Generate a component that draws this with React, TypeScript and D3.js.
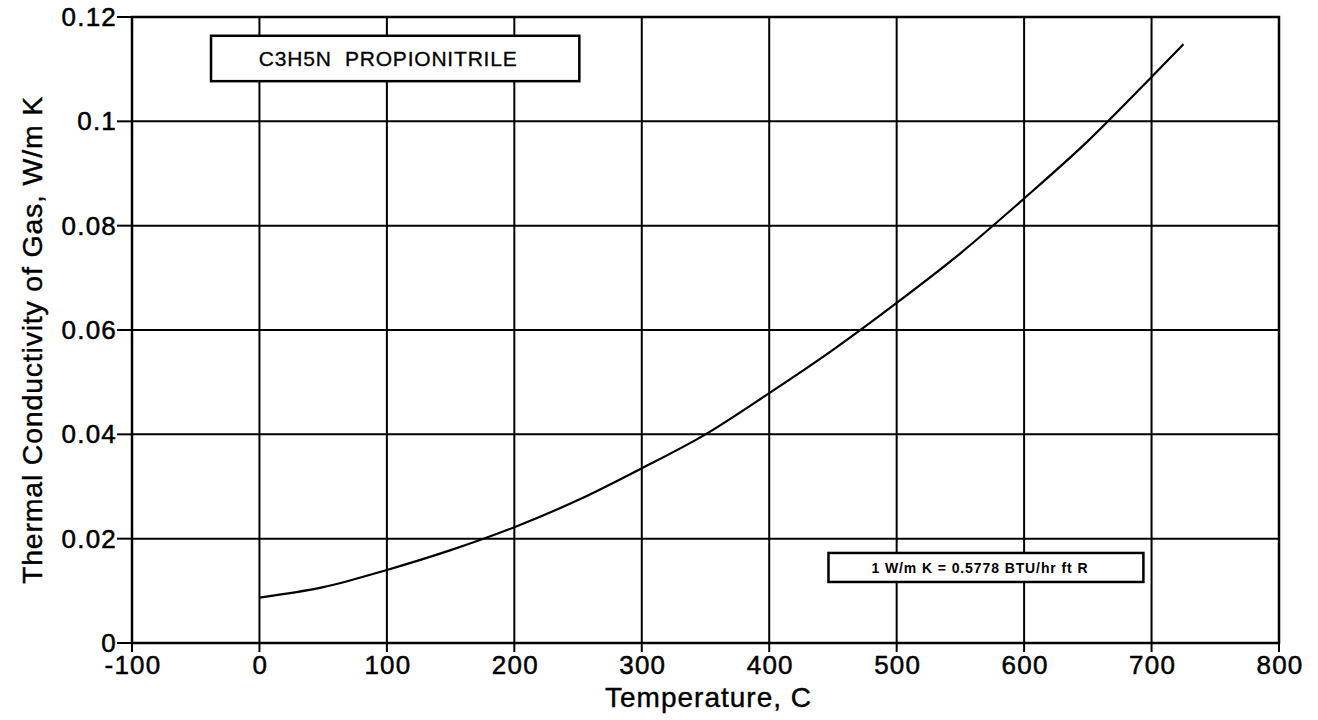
import * as d3 from "d3"
import React from "react"

// temperature, C
const temps = [0, 50, 100, 150, 200, 250, 300, 350, 400, 450, 500, 550, 600, 650, 700, 725]
// thermal conductivity of gas, W/m K
const conductivity = [0.0087, 0.0107, 0.0140, 0.0178, 0.0222, 0.0274, 0.0335, 0.0400, 0.0479, 0.0562, 0.0652, 0.0747, 0.0852, 0.0962, 0.1085, 0.1148]

const xTicks = [-100, 0, 100, 200, 300, 400, 500, 600, 700, 800]
const yTicks = [0, 0.02, 0.04, 0.06, 0.08, 0.1, 0.12]

const titleText = "C3H5N  PROPIONITRILE"
const unitText = "1 W/m K = 0.5778 BTU/hr ft R"

const width = 1318
const height = 720
const left = 132
const right = 1279
const top = 17
const bottom = 643
const font = "'Liberation Sans', Arial, Helvetica, sans-serif"

const App = () => {
  const x = d3.scaleLinear().domain([-100, 800]).range([left, right])
  const y = d3.scaleLinear().domain([0, 0.12]).range([bottom, top])

  const points = temps.map((t, i) => [t, conductivity[i]] as [number, number])
  const line = d3.line<[number, number]>()
    .x(d => x(d[0]))
    .y(d => y(d[1]))
    .curve(d3.curveMonotoneX)

  // annotation boxes, in data units
  const tb = { x0: -38, x1: 251, y0: 0.1164, y1: 0.1077 }
  const ub = { x0: 446.5, x1: 693.6, y0: 0.01726, y1: 0.0117 }

  return (
    <svg width={width} height={height} style={{ position: "absolute", left: 0, top: 0, background: "#fff" }}
      fontFamily={font}>
      <rect x={0} y={0} width={width} height={height} fill="#fff" />

      {/* grid */}
      <g stroke="#000" strokeWidth={2}>
        {xTicks.slice(1, -1).map(t => (
          <line key={"gx" + t} x1={x(t)} x2={x(t)} y1={top} y2={bottom} />
        ))}
        {yTicks.slice(1, -1).map(t => (
          <line key={"gy" + t} x1={left} x2={right} y1={y(t)} y2={y(t)} />
        ))}
      </g>

      {/* frame */}
      <rect x={left} y={top} width={right - left} height={bottom - top} fill="none" stroke="#000" strokeWidth={2.5} />

      {/* ticks */}
      <g stroke="#000" strokeWidth={2}>
        {xTicks.map(t => (
          <line key={"tx" + t} x1={x(t)} x2={x(t)} y1={bottom} y2={bottom + 9} />
        ))}
        {yTicks.map(t => (
          <line key={"ty" + t} x1={left - 15} x2={left} y1={y(t)} y2={y(t)} />
        ))}
      </g>

      {/* tick labels */}
      <g fontSize={26} fill="#000" stroke="#000" strokeWidth={0.5} letterSpacing={1.2}>
        {xTicks.map(t => (
          <text key={"lx" + t} x={x(t) + 1} y={bottom + 31} textAnchor="middle">{t}</text>
        ))}
        {yTicks.map(t => (
          <text key={"ly" + t} x={left - 15} y={y(t)} dy="0.35em" textAnchor="end">{d3.format("")(t)}</text>
        ))}
      </g>

      {/* axis titles */}
      <g fill="#000" stroke="#000" strokeWidth={0.4}>
        <text x={(left + right) / 2 + 3} y={707} fontSize={28} letterSpacing={1} textAnchor="middle">Temperature, C</text>
        <text transform={`translate(42,340) rotate(-90)`} fontSize={28.5} letterSpacing={0.8} textAnchor="middle">
          Thermal Conductivity of Gas, W/m K
        </text>
      </g>

      {/* curve */}
      <path d={line(points) || ""} fill="none" stroke="#000" strokeWidth={2.2} />

      {/* title box */}
      <rect x={x(tb.x0)} y={y(tb.y0)} width={x(tb.x1) - x(tb.x0)} height={y(tb.y1) - y(tb.y0)}
        fill="#fff" stroke="#000" strokeWidth={2.5} />
      <text x={(x(tb.x0) + x(tb.x1)) / 2 - 7} y={(y(tb.y0) + y(tb.y1)) / 2} dy="0.36em" fontSize={21}
        letterSpacing={0.8} stroke="#000" strokeWidth={0.3} textAnchor="middle" style={{ whiteSpace: "pre" }}>{titleText}</text>

      {/* unit box */}
      <rect x={x(ub.x0)} y={y(ub.y0)} width={x(ub.x1) - x(ub.x0)} height={y(ub.y1) - y(ub.y0)}
        fill="#fff" stroke="#000" strokeWidth={2.5} />
      <text x={(x(ub.x0) + x(ub.x1)) / 2 - 6} y={(y(ub.y0) + y(ub.y1)) / 2} dy="0.36em" fontSize={14}
        letterSpacing={0.9} fontWeight="bold" textAnchor="middle">{unitText}</text>
    </svg>
  )
}

export default App
